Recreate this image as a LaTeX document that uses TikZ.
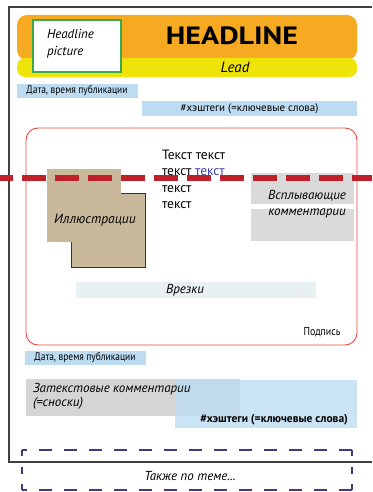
\documentclass[tikz,border=0pt]{standalone}
\usepackage{fontspec}
\usepackage{xcolor}
\setmainfont{PT Sans}
\newfontfamily\narrowfont{PT Sans}[FakeStretch=0.86]
\newfontfamily\widefont{PT Sans}[FakeStretch=1.2]
\usetikzlibrary{positioning, calc}

\definecolor{headorange}{HTML}{F5AA22}
\definecolor{leadyellow}{HTML}{EEE40A}
\definecolor{picgreen}{HTML}{3AAA48}
\definecolor{tagblue}{HTML}{BDDCF2}
\definecolor{illtan}{HTML}{C9B99A}
\definecolor{popgray}{HTML}{DADADA}
\definecolor{insetgray}{HTML}{E9F0F3}
\definecolor{notegray}{HTML}{D5D5D5}
\definecolor{framered}{HTML}{E8473C}
\definecolor{cutred}{HTML}{C0202A}
\definecolor{morepurple}{HTML}{3F3B7D}
\definecolor{linkblue}{HTML}{3B3FA0}

\tikzset{
    box/.style={inner sep=0pt, outer sep=0pt},
    datebox/.style={box, fill=tagblue, minimum width=121pt, minimum height=14pt, font=\narrowfont\fontsize{11}{12}\selectfont},
    morelink/.style={morepurple, line width=1.2pt, dash pattern=on 13pt off 12pt}
}

\begin{document}
\begin{tikzpicture}[x=1pt, y=-1pt]
        \useasboundingbox (0,0) rectangle (372,492);
        % page frame
        \draw[line width=1.2pt, black!75] (372,7) -- (9,7) -- (9,462) -- (372,462);
        % headline and lead
        \fill[headorange, rounded corners=10pt] (17,15) rectangle (357,60);
        \fill[leadyellow, rounded corners=8pt] (17,58) rectangle (357,77);
        \node[box, draw=picgreen, line width=1.2pt, fill=white, minimum width=88pt, minimum height=52pt] (pic) at (77,46) {};
        \node[box, align=left, anchor=west, font=\itshape\fontsize{13}{17}\selectfont] (pictxt) at (47,44) {Headline\\picture};
        \node[box, font=\widefont\bfseries\fontsize{25}{28}\selectfont] (head) at (232,36) {HEADLINE};
        \node[box, font=\itshape\fontsize{15}{17}\selectfont] (lead) at (235,67) {Lead};
        \node[datebox] (date) at (77,91) {Дата, время публикации};
        \node[box, fill=tagblue, minimum width=215pt, minimum height=15pt, font=\fontsize{11}{13}\selectfont] (tags) at (249.5,108.5) {\#хэштеги (=ключевые слова)};
        % body
        \draw[framered, line width=0.9pt, rounded corners=12pt] (26,128) rectangle (357,345);
        \node[box, align=left, anchor=north west, font=\fontsize{13.5}{16.5}\selectfont] (text) at (162,150) {Текст текст\\текст \textcolor{linkblue}{текст}\\текст\\текст};
        \node[box, draw=black!80, line width=1pt, fill=illtan, minimum width=74pt, minimum height=74pt] (ill2) at (108,230) {};
        \node[box, fill=illtan, minimum width=74pt, minimum height=73pt] (ill) at (84,205.5) {};
        \node[box, font=\itshape\fontsize{13.5}{15}\selectfont] (illtxt) at (95,220) {Иллюстрации};
        \node[box, fill=popgray, minimum width=103pt, minimum height=31pt] (pop1) at (302.5,188.5) {};
        \node[box, fill=popgray, minimum width=103pt, minimum height=32pt] (pop2) at (302.5,225) {};
        \node[box, align=center, font=\itshape\fontsize{13}{16.5}\selectfont] (poptxt) at (307,204) {Всплывающие\\комментарии};
        \node[box, fill=insetgray, minimum width=240pt, minimum height=16pt, font=\itshape\fontsize{13}{15}\selectfont] (inset) at (196,290) {};
        \node[box, font=\itshape\fontsize{13}{15}\selectfont] (insettxt) at (185,290) {Врезки};
        \node[box, font=\narrowfont\fontsize{11.5}{13}\selectfont] (sign) at (322,332) {Подпись};
        % cut line
        \coordinate (cutl) at (0,178);
        \coordinate (cutr) at (372,178);
        \draw[cutred, line width=6pt, dash pattern=on 24pt off 9pt, dash phase=11pt] (cutl) -- (cutr);
        % after the text
        \node[datebox] (date2) at (85,358) {Дата, время публикации};
        \node[box, fill=notegray, minimum width=214pt, minimum height=37pt] (notes) at (133,397.5) {};
        \node[box, fill=tagblue, fill opacity=0.8, minimum width=182pt, minimum height=48pt] (tags2) at (266,404) {};
        \node[box, align=left, anchor=north west, font=\itshape\fontsize{13}{14.5}\selectfont] (notetxt) at (33,383) {Затекстовые\ комментарии\\(=сноски)};
        \node[box, anchor=east, font=\bfseries\fontsize{11.5}{13}\selectfont] (tagtxt) at (348,420) {\#хэштеги (=ключевые слова)};
        % more on the topic
        \coordinate (m1) at (22,450);
        \coordinate (m2) at (352,450);
        \coordinate (m3) at (352,490);
        \coordinate (m4) at (22,490);
        \draw[morelink, dash phase=8pt] (m1) -- (m2);
        \draw[morelink, dash phase=8pt] (m4) -- (m3);
        \draw[morelink, dash pattern=on 6pt off 11pt on 7pt off 10pt on 6pt off 5pt] (m1) -- (m4);
        \draw[morelink, dash pattern=on 6pt off 11pt on 7pt off 10pt on 6pt off 5pt] (m2) -- (m3);
        \node[box, font=\itshape\fontsize{13}{15}\selectfont] (more) at (190,476) {Также по теме...};
    \end{tikzpicture}
\end{document}
